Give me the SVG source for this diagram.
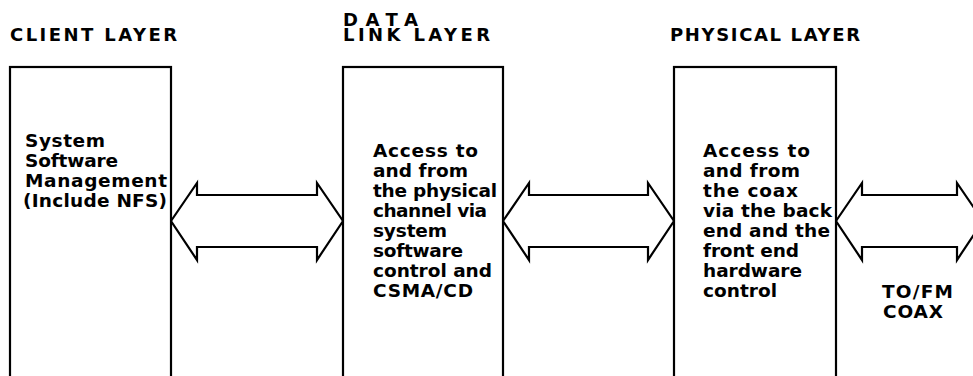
<svg xmlns="http://www.w3.org/2000/svg" width="973" height="376" viewBox="0 0 973 376">
<style>
.box{fill:#fff;stroke:#000;stroke-width:2.2}
.arr{fill:#fff;stroke:#000;stroke-width:2.2;stroke-linejoin:miter}
text{font-family:"DejaVu Sans","Liberation Sans",Arial,sans-serif;font-size:18.5px;font-weight:bold;fill:#000}
.hd{font-size:18px}
</style>
<rect width="973" height="376" fill="#fff"/>
<g id="connectors">
<path class="arr" d="M171,221 L197,183 L197,195 L317,195 L317,183 L343,221 L317,260 L317,247 L197,247 L197,260 Z"/>
<path class="arr" d="M503,221 L529,183 L529,195 L648,195 L648,183 L674,221 L648,260 L648,247 L529,247 L529,260 Z"/>
<path class="arr" d="M836,221 L862,183 L862,195 L957,195 L957,183 L983,221 L957,260 L957,247 L862,247 L862,260 Z"/>
</g>
<g id="client">
<text class="hd" x="10" y="41" textLength="167" lengthAdjust="spacing">CLIENT LAYER</text>
<rect class="box" x="10" y="67" width="161" height="320"/>
<text x="25" y="147" textLength="80" lengthAdjust="spacing">System</text>
<text x="25" y="167" textLength="93" lengthAdjust="spacing">Software</text>
<text x="25" y="187" textLength="142" lengthAdjust="spacing">Management</text>
<text x="23" y="207" textLength="144" lengthAdjust="spacing">(Include NFS)</text>
</g>
<g id="datalink">
<text class="hd" x="343" y="26" textLength="75" lengthAdjust="spacing">DATA</text>
<text class="hd" x="343" y="41" textLength="147" lengthAdjust="spacing">LINK LAYER</text>
<rect class="box" x="343" y="67" width="160" height="320"/>
<text x="373" y="157" textLength="105" lengthAdjust="spacing">Access to</text>
<text x="373" y="177" textLength="95" lengthAdjust="spacing">and from</text>
<text x="373" y="197" textLength="124" lengthAdjust="spacing">the physical</text>
<text x="373" y="217" textLength="114" lengthAdjust="spacing">channel via</text>
<text x="373" y="237" textLength="74" lengthAdjust="spacing">system</text>
<text x="373" y="257" textLength="90" lengthAdjust="spacing">software</text>
<text x="373" y="277" textLength="119" lengthAdjust="spacing">control and</text>
<text x="373" y="297" textLength="100" lengthAdjust="spacing">CSMA/CD</text>
</g>
<g id="physical">
<text class="hd" x="670" y="41" textLength="190" lengthAdjust="spacing">PHYSICAL LAYER</text>
<rect class="box" x="674" y="67" width="162" height="320"/>
<text x="703" y="157" textLength="107" lengthAdjust="spacing">Access to</text>
<text x="703" y="177" textLength="97" lengthAdjust="spacing">and from</text>
<text x="703" y="197" textLength="95" lengthAdjust="spacing">the coax</text>
<text x="703" y="217" textLength="129" lengthAdjust="spacing">via the back</text>
<text x="703" y="237" textLength="127" lengthAdjust="spacing">end and the</text>
<text x="703" y="257" textLength="96" lengthAdjust="spacing">front end</text>
<text x="703" y="277" textLength="99" lengthAdjust="spacing">hardware</text>
<text x="703" y="297" textLength="74" lengthAdjust="spacing">control</text>
</g>
<g id="coax">
<text x="882" y="298" textLength="71" lengthAdjust="spacing">TO/FM</text>
<text x="883" y="318" textLength="60" lengthAdjust="spacing">COAX</text>
</g>
</svg>
